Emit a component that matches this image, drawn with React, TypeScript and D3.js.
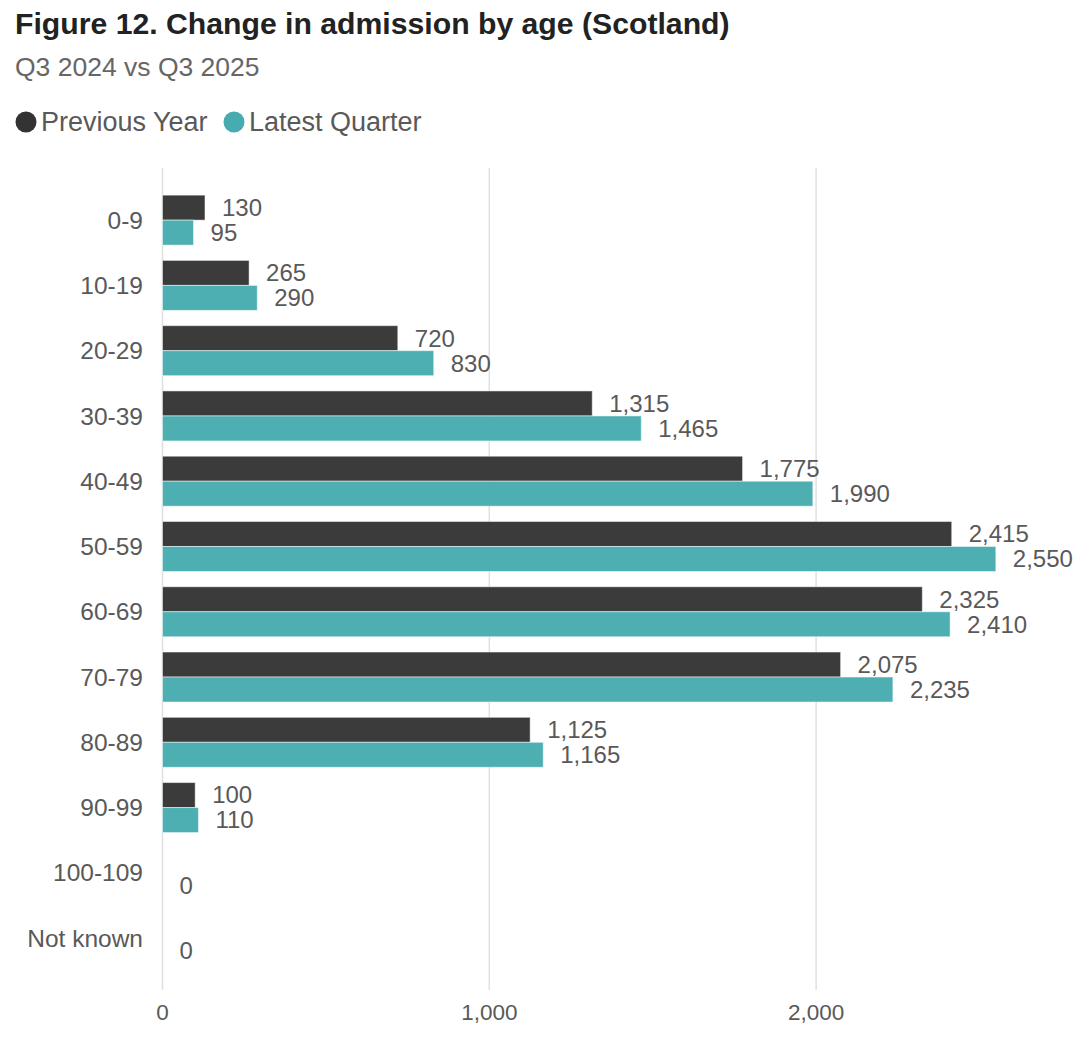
import React, { useEffect, useRef } from 'react';
import * as d3 from 'd3';

const categories = ['0-9', '10-19', '20-29', '30-39', '40-49', '50-59', '60-69', '70-79', '80-89', '90-99', '100-109', 'Not known'];
const previousYear = [130, 265, 720, 1315, 1775, 2415, 2325, 2075, 1125, 100, 0, 0];
const latestQuarter = [95, 290, 830, 1465, 1990, 2550, 2410, 2235, 1165, 110, 0, 0];
const xTicks = [0, 1000, 2000];
const seriesNames = ['Previous Year', 'Latest Quarter'];
const seriesColors = ['#333333', '#46acaf'];

const WIDTH = 1087;
const HEIGHT = 1045;
const FONT = '"Liberation Sans", Arial, sans-serif';

export default function App() {
  const svgRef = useRef<SVGSVGElement>(null);

  useEffect(() => {
    document.body.style.margin = '0';
    if (!svgRef.current) return;
    const svg = d3.select(svgRef.current);
    svg.selectAll('*').remove();

    const x = d3.scaleLinear().domain([0, 2800]).range([162.5, 162.5 + 2800 * 0.3268]);
    const y = d3.scaleBand<string>()
      .domain(categories)
      .range([187.5, 187.5 + 65.27 * categories.length])
      .paddingInner(0.234)
      .paddingOuter(0.117);
    const sub = d3.scaleBand<string>().domain(seriesNames).range([0, y.bandwidth()]);

    // title, subtitle
    svg.append('text')
      .attr('x', 15).attr('y', 34)
      .style('font-family', FONT).style('font-size', '30.2px').style('font-weight', 'bold')
      .style('fill', '#222222')
      .text('Figure 12. Change in admission by age (Scotland)');
    svg.append('text')
      .attr('x', 15).attr('y', 76)
      .style('font-family', FONT).style('font-size', '26.5px')
      .style('fill', '#666666')
      .text('Q3 2024 vs Q3 2025');

    // legend
    const legend = svg.append('g').attr('transform', 'translate(0,122)');
    const legendX = [26, 234];
    seriesNames.forEach((name, i) => {
      legend.append('circle')
        .attr('cx', legendX[i]).attr('cy', 0).attr('r', 10.5)
        .attr('fill', seriesColors[i]);
      legend.append('text')
        .attr('x', legendX[i] + 15).attr('y', 0).attr('dy', '0.35em')
        .style('font-family', FONT).style('font-size', '27px')
        .style('fill', '#595959')
        .text(name);
    });

    // gridlines
    svg.append('g')
      .selectAll('line')
      .data(xTicks)
      .enter()
      .append('line')
      .attr('x1', d => x(d)).attr('x2', d => x(d))
      .attr('y1', 168).attr('y2', 990)
      .attr('stroke', '#e0e0e0').attr('stroke-width', 1.5);

    // x tick labels
    svg.append('g')
      .selectAll('text')
      .data(xTicks)
      .enter()
      .append('text')
      .attr('x', d => x(d)).attr('y', 1012).attr('dy', '0.35em')
      .attr('text-anchor', 'middle')
      .style('font-family', FONT).style('font-size', '22.5px')
      .style('fill', '#595959')
      .text(d => d3.format(',')(d));

    // category labels
    svg.append('g')
      .selectAll('text')
      .data(categories)
      .enter()
      .append('text')
      .attr('x', 143).attr('y', d => y(d)! + y.bandwidth() / 2).attr('dy', '0.35em')
      .attr('text-anchor', 'end')
      .style('font-family', FONT).style('font-size', '24.5px')
      .style('fill', '#595959')
      .text(d => d);

    const series = [previousYear, latestQuarter];
    series.forEach((values, si) => {
      const g = svg.append('g');
      g.selectAll('rect')
        .data(values)
        .enter()
        .append('rect')
        .attr('x', x(0))
        .attr('y', (_, i) => y(categories[i])! + sub(seriesNames[si])!)
        .attr('width', d => x(d) - x(0))
        .attr('height', sub.bandwidth())
        .attr('fill', seriesColors[si])
        .attr('fill-opacity', 0.96)
        .attr('stroke', d => (d > 0 ? '#ffffff' : 'none'))
        .attr('stroke-opacity', 0.5)
        .attr('stroke-width', 1);

      g.selectAll('text')
        .data(values.map((v, i) => ({ v, i })).filter(d => si === 1 || d.v > 0))
        .enter()
        .append('text')
        .attr('x', d => x(d.v) + 17)
        .attr('y', d => y(categories[d.i])! + sub(seriesNames[si])! + sub.bandwidth() / 2)
        .attr('dy', '0.35em')
        .style('font-family', FONT).style('font-size', '24px')
        .style('fill', '#595959')
        .text(d => d3.format(',')(d.v));
    });
  }, []);

  return <svg ref={svgRef} width={WIDTH} height={HEIGHT} style={{ display: 'block', background: '#ffffff' }} />;
}
